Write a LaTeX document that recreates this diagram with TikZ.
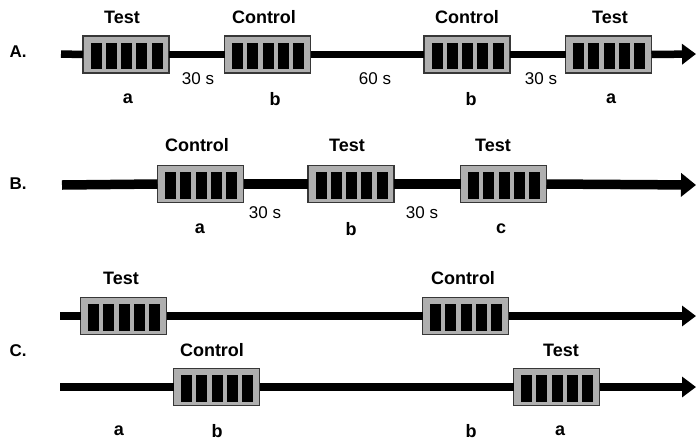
\documentclass[tikz,border=0pt]{standalone}
\usepackage{fontspec}
\setmainfont{Liberation Sans}
\usetikzlibrary{arrows.meta}
\definecolor{boxfill}{RGB}{175,175,175}
\definecolor{boxline}{RGB}{55,55,55}
\tikzset{
  trial/.style={draw=boxline, line width=1.8pt, fill=boxfill, minimum width=86pt, minimum height=37pt,
    inner sep=0pt, outer sep=0pt,
    path picture={
      \foreach \i in {0,...,4}
        \fill[black] ([shift={(7.5+\i*15.3,-12)}]path picture bounding box.west) rectangle ++(11,26.5);
    }},
  ttl/.style={font=\bfseries\fontsize{18}{21}\selectfont, inner sep=0pt},
  sub/.style={font=\bfseries\fontsize{18}{21}\selectfont, inner sep=0pt},
  gap/.style={font=\fontsize{17}{20}\selectfont, inner sep=0pt},
  rowlab/.style={font=\bfseries\fontsize{17}{20}\selectfont, inner sep=0pt},
  axis/.style={line width=7.5pt},
  axisend/.style={line width=7.5pt, -{Triangle[length=14pt,width=20pt]}},
  axisB/.style={line width=9.5pt},
  axisBend/.style={line width=9.5pt, -{Triangle[length=15pt,width=23pt]}},
}
\begin{document}
\begin{tikzpicture}[x=1pt,y=-1pt]
\useasboundingbox (0,0) rectangle (696,440);
% ---------------- Row A
\node[rowlab] (labA) at (18,52) {A.};
\coordinate (sA) at (61,54);
\coordinate (eA) at (696,54);
\node[trial] (A1) at (126,54.5) {};
\node[trial] (A2) at (267.5,54.5) {};
\node[trial] (A3) at (467,54.5) {};
\node[trial] (A4) at (608.5,54.5) {};
\draw[axis] (sA) -- (A1.west);
\draw[axis] (A1.east) -- (A2.west);
\draw[axis] (A2.east) -- (A3.west);
\draw[axis] (A3.east) -- (A4.west);
\draw[axisend] (A4.east) -- (eA);
\node[ttl] (tA1) at (122,17) {Test};
\node[ttl] (tA2) at (264,17) {Control};
\node[ttl] (tA3) at (467,17) {Control};
\node[ttl] (tA4) at (610,17) {Test};
\node[sub] (sA1) at (128,99) {a};
\node[sub] (sA2) at (275,99) {b};
\node[sub] (sA3) at (471,99) {b};
\node[sub] (sA4) at (611,99) {a};
\node[gap] (gA1) at (198,79) {30 s};
\node[gap] (gA2) at (375,79) {60 s};
\node[gap] (gA3) at (541,79) {30 s};
% ---------------- Row B
\node[rowlab] (labB) at (18,184) {B.};
\coordinate (sB) at (62,185);
\coordinate (eB) at (696,185);
\node[trial] (B1) at (200.5,184) {};
\node[trial] (B2) at (351,184) {};
\node[trial] (B3) at (503.5,184) {};
\draw[axisB] (sB) -- (B1.west);
\draw[axisB] (B1.east) -- (B2.west);
\draw[axisB] (B2.east) -- (B3.west);
\draw[axisBend] (B3.east) -- (eB);
\node[ttl] (tB1) at (197,145) {Control};
\node[ttl] (tB2) at (347,145) {Test};
\node[ttl] (tB3) at (493,145) {Test};
\node[sub] (sB1) at (200,229) {a};
\node[sub] (sB2) at (351,229) {b};
\node[sub] (sB3) at (501,229) {c};
\node[gap] (gB1) at (265,213) {30 s};
\node[gap] (gB2) at (422,213) {30 s};
% ---------------- Row C
\node[rowlab] (labC) at (18,351) {C.};
\coordinate (sC1) at (60,316);
\coordinate (eC1) at (696,316);
\node[trial] (C1a) at (123.5,316) {};
\node[trial] (C1b) at (465.5,316) {};
\draw[axis] (sC1) -- (C1a.west);
\draw[axis] (C1a.east) -- (C1b.west);
\draw[axisend] (C1b.east) -- (eC1);
\node[ttl] (tC1) at (121,278) {Test};
\node[ttl] (tC2) at (463,278) {Control};
\coordinate (sC2) at (60,387);
\coordinate (eC2) at (696,387);
\node[trial] (C2a) at (216.5,387) {};
\node[trial] (C2b) at (556.5,387) {};
\draw[axis] (sC2) -- (C2a.west);
\draw[axis] (C2a.east) -- (C2b.west);
\draw[axisend] (C2b.east) -- (eC2);
\node[ttl] (tC3) at (212,350) {Control};
\node[ttl] (tC4) at (561,350) {Test};
\node[sub] (sC1l) at (119,431) {a};
\node[sub] (sC2l) at (217,431) {b};
\node[sub] (sC3l) at (471,431) {b};
\node[sub] (sC4l) at (560,431) {a};
\end{tikzpicture}
\end{document}
